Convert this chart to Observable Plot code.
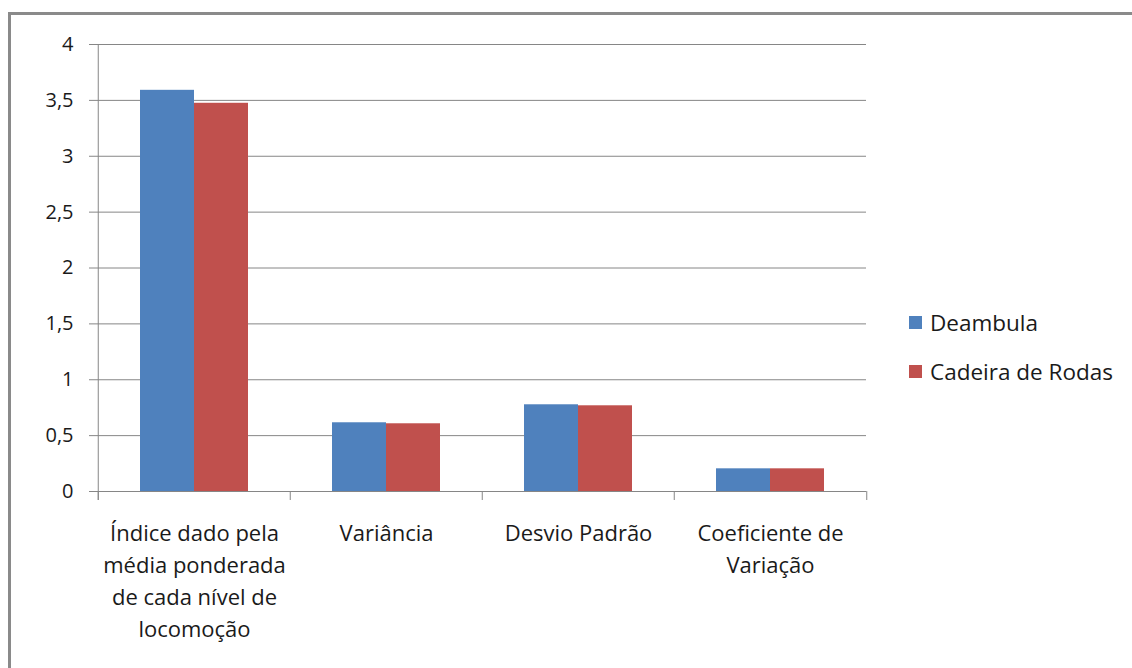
<!DOCTYPE html>
<html>
<head>
<meta charset="utf-8">
<script src="https://cdn.jsdelivr.net/npm/d3@7"></script>
<script src="https://cdn.jsdelivr.net/npm/@observablehq/plot@0.6"></script>
<style>
  html, body { margin: 0; padding: 0; background: #fff; overflow: hidden; }
  body { width: 1132px; height: 668px; position: relative; font-family: "Open Sans", sans-serif; }
  #frame { position: absolute; left: 8px; top: 12px; width: 1200px; height: 800px; border: 3px solid #8a8a8a; box-sizing: border-box; }
  #chart { position: absolute; left: 0; top: 0; }
  #legend { position: absolute; left: 909px; top: 304px; font-size: 22.5px; color: #1a1a1a; }
  .row { display: flex; align-items: center; height: 36px; margin-bottom: 13px; }
  .sw { width: 13px; height: 13px; margin-right: 8px; }
</style>
</head>
<body>
<div id="frame"></div>
<div id="chart"></div>
<div id="legend"></div>
<script>
const categories = ["Índice dado pela média ponderada de cada nível de locomoção", "Variância", "Desvio Padrão", "Coeficiente de Variação"];
const categoryLabels = ["Índice dado pela\nmédia ponderada\nde cada nível de\nlocomoção", "Variância", "Desvio Padrão", "Coeficiente de\nVariação"];
const series = ["Deambula", "Cadeira de Rodas"];
const deambula = [3.59, 0.615, 0.776, 0.203];
const cadeira = [3.474, 0.606, 0.767, 0.203];
const colors = ["#4F81BD", "#C0504D"];
const yTicks = [0, 0.5, 1, 1.5, 2, 2.5, 3, 3.5, 4];

const data = [];
categories.forEach((c, i) => {
  data.push({category: c, series: series[0], value: deambula[i]});
  data.push({category: c, series: series[1], value: cadeira[i]});
});

const grid = "#868686";
const half = 770 / 4 / 2;

const plot = Plot.plot({
  width: 1132,
  height: 668,
  marginLeft: 97,
  marginRight: 266,
  marginTop: 44,
  marginBottom: 177,
  style: {fontFamily: "'Open Sans', sans-serif", fontSize: "20px", color: "#1a1a1a", background: "transparent"},
  fx: {domain: categories, padding: 0, axis: null},
  x: {domain: series, paddingInner: 0, paddingOuter: 0.765, axis: null},
  y: {domain: [0, 4], axis: null},
  color: {domain: series, range: colors},
  marks: [
    Plot.gridY(yTicks, {stroke: grid, strokeOpacity: 1}),
    Plot.axisY(yTicks, {label: null, tickSize: 9, tickPadding: 16, stroke: grid, strokeOpacity: 1, fontSize: 20, tickFormat: d => String(d).replace(".", ",")}),
    Plot.barY(data, {fx: "category", x: "series", y: "value", fill: "series"}),
    Plot.ruleX(categories, {fx: d => d, x: null, y1: 0, y2: 0, insetBottom: -9, dx: -half, stroke: grid}),
    Plot.ruleX([categories[categories.length - 1]], {fx: d => d, x: null, y1: 0, y2: 0, insetBottom: -9, dx: half, stroke: grid}),
    Plot.ruleX([categories[0]], {fx: d => d, x: null, y1: 4, y2: 0, insetBottom: -9, dx: -half, stroke: grid}),
    Plot.text(categories, {fx: d => d, x: null, y: null, text: (d, i) => categoryLabels[i], frameAnchor: "bottom", lineAnchor: "top", dy: 27, lineHeight: 1.455, fontSize: 22, fill: "#1a1a1a"})
  ]
});
document.getElementById("chart").appendChild(plot);

const legend = document.getElementById("legend");
series.forEach((s, i) => {
  const row = document.createElement("div");
  row.className = "row";
  const sw = document.createElement("div");
  sw.className = "sw";
  sw.style.background = colors[i];
  const t = document.createElement("span");
  t.textContent = s;
  row.appendChild(sw);
  row.appendChild(t);
  legend.appendChild(row);
});
</script>
</body>
</html>
